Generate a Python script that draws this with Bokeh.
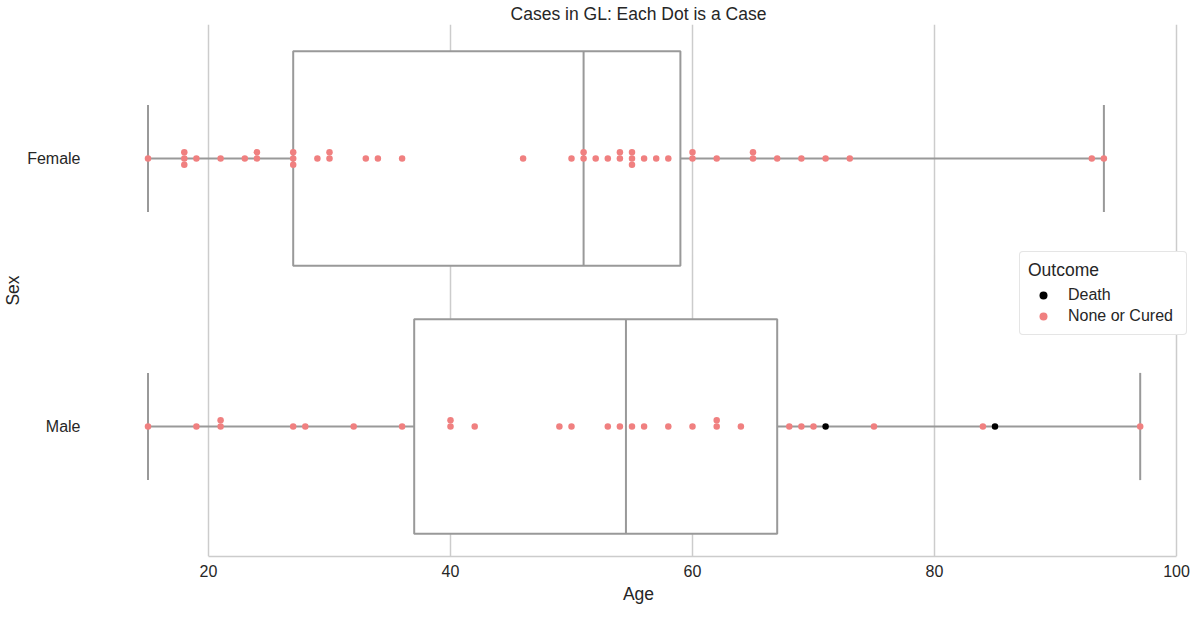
import numpy as np
from bokeh.plotting import figure
from bokeh.models import Range1d, FixedTicker, Legend, LegendItem, ColumnDataSource
from bokeh.embed import file_html
from bokeh.resources import INLINE

# ---------------- data ----------------
sexes = ["Female", "Male"]
female_ages = [15, 18, 18, 18, 19, 21, 23, 24, 24, 27, 27, 27, 29, 30, 30, 33, 34, 36,
               46, 50, 51, 51, 52, 53, 54, 54, 55, 55, 55, 56, 57, 58, 60, 60, 62, 65,
               65, 67, 69, 71, 73, 93, 94]
female_outcomes = ["None or Cured"] * 43
male_ages = [15, 19, 21, 21, 27, 28, 32, 36, 40, 40, 42, 49, 50, 53, 54, 55, 56, 58,
             60, 62, 62, 64, 68, 69, 70, 71, 75, 84, 85, 97]
male_outcomes = ["None or Cured", "None or Cured", "None or Cured", "None or Cured",
                 "None or Cured", "None or Cured", "None or Cured", "None or Cured",
                 "None or Cured", "None or Cured", "None or Cured", "None or Cured",
                 "None or Cured", "None or Cured", "None or Cured", "None or Cured",
                 "None or Cured", "None or Cured", "None or Cured", "None or Cured",
                 "None or Cured", "None or Cured", "None or Cured", "None or Cured",
                 "None or Cured", "Death", "None or Cured", "None or Cured",
                 "Death", "None or Cured"]
outcome_labels = ["Death", "None or Cured"]
outcome_colors = ["black", "#F08080"]
x_ticks = [20, 40, 60, 80, 100]

FONT = "Liberation Sans"
TXT = "#262626"
BOX_C = "#999999"
GRID_C = "#cccccc"

groups = [(female_ages, female_outcomes), (male_ages, male_outcomes)]

# ---------------- box statistics ----------------
stats = dict(y=[], q1=[], med=[], q3=[], lo=[], hi=[])
for i, (ages, _) in enumerate(groups):
    a = np.array(ages, dtype=float)
    q1, med, q3 = np.percentile(a, [25, 50, 75])
    iqr = q3 - q1
    lo = a[a >= q1 - 1.5 * iqr].min()
    hi = a[a <= q3 + 1.5 * iqr].max()
    for k, v in zip(["y", "q1", "med", "q3", "lo", "hi"], [i, q1, med, q3, lo, hi]):
        stats[k].append(float(v))
st = ColumnDataSource(dict(
    y=stats["y"], q1=stats["q1"], med=stats["med"], q3=stats["q3"],
    lo=stats["lo"], hi=stats["hi"],
    top=[y - 0.4 for y in stats["y"]], bottom=[y + 0.4 for y in stats["y"]],
    ctop=[y - 0.2 for y in stats["y"]], cbot=[y + 0.2 for y in stats["y"]],
))

# ---------------- swarm offsets ----------------
D = 0.0235
pattern = [0, -1, 1, -2, 2, -3, 3]
pts = {lab: dict(x=[], y=[]) for lab in outcome_labels}
for i, (ages, outs) in enumerate(groups):
    seen = {}
    for a, o in zip(ages, outs):
        k = seen.get(a, 0)
        seen[a] = k + 1
        pts[o]["x"].append(a)
        pts[o]["y"].append(i + pattern[k] * D)

# ---------------- figure ----------------
FW, FH = 1106, 532
X0 = 9.835
p = figure(frame_width=FW, frame_height=FH,
           x_range=Range1d(X0, X0 + FW / 12.1), y_range=Range1d(-0.5 + FH / 268.0, -0.5),
           output_backend="svg", toolbar_location=None,
           title="Cases in GL: Each Dot is a Case",
           min_border_left=77, min_border_right=0, min_border_top=0, min_border_bottom=0)
p.outline_line_color = None
p.background_fill_color = "white"

p.title.text_font = FONT
p.title.text_font_size = "17.5px"
p.title.text_font_style = "normal"
p.title.text_color = TXT
p.title.align = "center"
p.title.standoff = 2
p.title.offset = 0

p.xaxis.ticker = FixedTicker(ticks=x_ticks)
p.xaxis.bounds = (20, 100)
p.xaxis.axis_line_color = GRID_C
p.xaxis.axis_line_width = 1.5
p.xaxis.major_label_standoff = 8
p.xaxis.axis_label = "Age"
p.xaxis.axis_label_standoff = 4

p.yaxis.ticker = FixedTicker(ticks=[0, 1])
p.yaxis.major_label_overrides = {0: sexes[0], 1: sexes[1]}
p.yaxis.axis_line_color = None
p.yaxis.major_label_standoff = 5
p.yaxis.axis_label = "Sex"
p.yaxis.axis_label_standoff = 1

for ax in (p.xaxis, p.yaxis):
    ax.major_tick_line_color = None
    ax.minor_tick_line_color = None
    ax.major_tick_out = 0
    ax.major_tick_in = 0
    ax.minor_tick_out = 0
    ax.minor_tick_in = 0
    ax.major_label_text_font = FONT
    ax.major_label_text_font_size = "16px"
    ax.major_label_text_color = TXT
    ax.axis_label_text_font = FONT
    ax.axis_label_text_font_size = "17.5px"
    ax.axis_label_text_font_style = "normal"
    ax.axis_label_text_color = TXT

p.xgrid.ticker = FixedTicker(ticks=x_ticks)
p.xgrid.grid_line_color = GRID_C
p.xgrid.grid_line_width = 1.5
p.ygrid.grid_line_color = None

# boxes
p.quad(left="q1", right="q3", top="top", bottom="bottom", source=st,
       fill_color="white", line_color=BOX_C, line_width=2)
p.segment(x0="lo", y0="y", x1="q1", y1="y", source=st, line_color=BOX_C, line_width=2)
p.segment(x0="q3", y0="y", x1="hi", y1="y", source=st, line_color=BOX_C, line_width=2)
p.segment(x0="lo", y0="ctop", x1="lo", y1="cbot", source=st, line_color=BOX_C, line_width=2)
p.segment(x0="hi", y0="ctop", x1="hi", y1="cbot", source=st, line_color=BOX_C, line_width=2)
p.segment(x0="med", y0="top", x1="med", y1="bottom", source=st, line_color=BOX_C, line_width=2)

# swarm points
items = []
for lab, col in zip(outcome_labels, outcome_colors):
    r = p.scatter(x=pts[lab]["x"], y=pts[lab]["y"], size=6.5, fill_color=col,
                  line_color=None, marker="circle")
    items.append(LegendItem(label=lab, renderers=[r]))

legend = Legend(items=items, title="Outcome", location=(934, 221))
legend.title_text_font = FONT
legend.title_text_font_size = "17.5px"
legend.title_text_font_style = "normal"
legend.title_text_color = TXT
legend.label_text_font = FONT
legend.label_text_font_size = "16px"
legend.label_text_color = TXT
legend.border_line_color = GRID_C
legend.border_line_width = 1
legend.border_radius = 4
legend.background_fill_color = "white"
legend.background_fill_alpha = 1
legend.glyph_width = 30
legend.glyph_height = 20
legend.label_standoff = 10
legend.label_width = 110
legend.spacing = 1
legend.padding = 8
legend.margin = 0
legend.title_standoff = 4
p.add_layout(legend, "center")

open("out.html", "w").write(file_html(p, INLINE))
